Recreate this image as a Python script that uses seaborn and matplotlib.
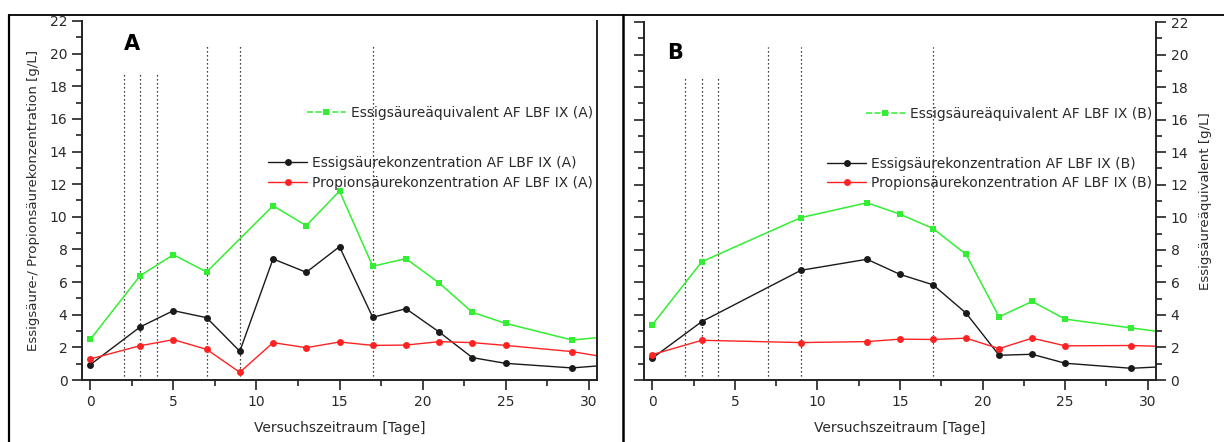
import matplotlib
matplotlib.use('Agg')
import matplotlib.pyplot as plt
import seaborn as sns
from matplotlib.lines import Line2D
from matplotlib.ticker import MultipleLocator

# data (day, g/L)
days_a = [0, 3, 5, 7, 9, 11, 13, 15, 17, 19, 21, 23, 25, 29, 31]
days_a_eq = [0, 3, 5, 7, 11, 13, 15, 17, 19, 21, 23, 25, 29, 31]
essig_a = [0.94, 3.25, 4.25, 3.82, 1.76, 7.42, 6.60, 8.17, 3.84, 4.37, 2.94, 1.37, 1.02, 0.74, 0.90]
propion_a = [1.29, 2.10, 2.47, 1.88, 0.47, 2.29, 1.98, 2.33, 2.12, 2.14, 2.35, 2.29, 2.12, 1.74, 1.40]
aequiv_a = [2.49, 6.39, 7.68, 6.62, 10.68, 9.46, 11.58, 6.97, 7.44, 5.94, 4.15, 3.47, 2.45, 2.64]

days_b = [0, 3, 9, 13, 15, 17, 19, 21, 23, 25, 29, 31]
essig_b = [1.34, 3.59, 6.74, 7.42, 6.49, 5.85, 4.11, 1.52, 1.58, 1.03, 0.72, 0.82]
propion_b = [1.56, 2.44, 2.30, 2.36, 2.51, 2.49, 2.57, 1.93, 2.57, 2.10, 2.12, 2.06]
aequiv_b = [3.39, 7.27, 9.98, 10.89, 10.19, 9.31, 7.72, 3.88, 4.83, 3.74, 3.20, 2.93]

# dotted markers for sampling / feeding events
events_low = [2, 3, 4]
events_high = [7, 9, 17]

GREEN = '#33ee33'
RED = '#ff2222'
BLACK = '#1a1a1a'
TXT = '#2a2a2a'

sns.set_style('ticks')
plt.rcParams['font.family'] = ['DejaVu Sans']
plt.rcParams['text.color'] = TXT
plt.rcParams['axes.labelcolor'] = TXT
plt.rcParams['xtick.labelcolor'] = TXT
plt.rcParams['ytick.labelcolor'] = TXT

fig = plt.figure(figsize=(12.24, 4.42), dpi=100)
ax_a = fig.add_axes([82 / 1224, 1 - 380 / 442, 515 / 1224, 359 / 442])
ax_b = fig.add_axes([644 / 1224, 1 - 380 / 442, 512 / 1224, 358 / 442])

LEG_FS = 10


def draw_panel(ax, days, days_eq, essig, propion, aequiv, tag, low_top, high_top):
    for d in events_low:
        ax.vlines(d, 0, low_top, color='black', lw=0.9, linestyles=(0, (1, 2.2)))
    for d in events_high:
        ax.vlines(d, 0, high_top, color='black', lw=0.9, linestyles=(0, (1, 2.2)))

    sns.lineplot(x=days_eq, y=aequiv, ax=ax, color=GREEN, marker='s', markersize=5,
                 markeredgewidth=0, lw=1.1, sort=False, estimator=None)
    sns.lineplot(x=days, y=essig, ax=ax, color=BLACK, marker='o', markersize=5,
                 markeredgewidth=0, lw=1.0, sort=False, estimator=None)
    sns.lineplot(x=days, y=propion, ax=ax, color=RED, marker='o', markersize=5,
                 markeredgewidth=0, lw=1.0, sort=False, estimator=None)

    ax.set_xlim(-0.5, 30.5)
    ax.set_ylim(0, 22)
    ax.xaxis.set_major_locator(MultipleLocator(5))
    ax.xaxis.set_minor_locator(MultipleLocator(2.5))
    ax.yaxis.set_major_locator(MultipleLocator(2))
    ax.yaxis.set_minor_locator(MultipleLocator(1))
    ax.tick_params(which='major', length=7, width=1.2, labelsize=10, color='#222222')
    ax.tick_params(which='minor', length=4, width=1.2, color='#222222')
    ax.spines['top'].set_visible(False)
    for s in ['left', 'right', 'bottom']:
        ax.spines[s].set_linewidth(1.4)
        ax.spines[s].set_color('#222222')
    ax.set_xlabel('Versuchszeitraum [Tage]', fontsize=10, labelpad=9)

    h_eq = Line2D([], [], color=GREEN, marker='s', markersize=5, markeredgewidth=0,
                  lw=1.1, dashes=(4, 1.5))
    h_es = Line2D([], [], color=BLACK, marker='o', markersize=5, markeredgewidth=0, lw=1.0)
    h_pr = Line2D([], [], color=RED, marker='o', markersize=5, markeredgewidth=0, lw=1.0)
    leg1 = ax.legend([h_eq], [f'Essigsäureäquivalent AF LBF IX ({tag})'],
                     loc='center right', bbox_to_anchor=(0.992, 0.744), frameon=False,
                     fontsize=LEG_FS, handlelength=2.8, handletextpad=0.35,
                     borderpad=0, borderaxespad=0)
    ax.add_artist(leg1)
    ax.legend([h_es, h_pr],
              [f'Essigsäurekonzentration AF LBF IX ({tag})',
               f'Propionsäurekonzentration AF LBF IX ({tag})'],
              loc='center right', bbox_to_anchor=(0.992, 0.577), frameon=False,
              fontsize=LEG_FS, handlelength=2.8, handletextpad=0.35, labelspacing=0.4,
              borderpad=0, borderaxespad=0)


draw_panel(ax_a, days_a, days_a_eq, essig_a, propion_a, aequiv_a, 'A', 18.86, 20.45)
draw_panel(ax_b, days_b, days_b, essig_b, propion_b, aequiv_b, 'B', 18.53, 20.48)

# panel A: labels on the left
ax_a.set_ylabel('Essigsäure-/ Propionsäurekonzentration [g/L]', fontsize=9.6, labelpad=7)
ax_a.tick_params(axis='y', which='both', right=False)

# panel B: ticks both sides, labels on the right
ax_b.yaxis.set_ticks_position('both')
ax_b.tick_params(axis='y', which='both', labelleft=False, labelright=True)
ax_b.yaxis.set_label_position('right')
ax_b.set_ylabel('Essigsäureäquivalent [g/L]', fontsize=9.6, labelpad=8)

ax_a.text(0.097, 0.936, 'A', transform=ax_a.transAxes, fontsize=15, fontweight='bold',
          ha='center', va='center', color='black')
ax_b.text(0.06, 0.913, 'B', transform=ax_b.transAxes, fontsize=15, fontweight='bold',
          ha='center', va='center', color='black')

# table-like frame around the two panels
top = 1 - 14.5 / 442
fig.add_artist(Line2D([9 / 1224, 1], [top, top], color='black', lw=1.3))
fig.add_artist(Line2D([9 / 1224, 9 / 1224], [0, top], color='black', lw=1.6))
fig.add_artist(Line2D([623 / 1224, 623 / 1224], [0, top], color='black', lw=1.8))

fig.savefig('out.png', dpi=100, facecolor='white')
